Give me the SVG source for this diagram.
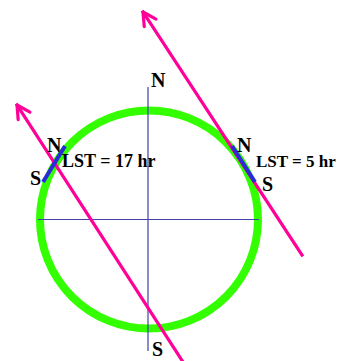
<svg xmlns="http://www.w3.org/2000/svg" width="337" height="361" viewBox="0 0 337 361">
<defs>
<marker id="arr" markerUnits="userSpaceOnUse" markerWidth="30" markerHeight="30" viewBox="-20 -15 30 30" refX="0" refY="0" orient="auto">
<path d="M-13,-7 L0,0 L-13,7" fill="none" stroke="#ff0099" stroke-width="3.2" stroke-linecap="round" stroke-linejoin="round"/>
</marker>
<style>
.lbl{font-family:"Liberation Serif","Times New Roman",serif;font-weight:bold;fill:#000}
.big{font-size:20px}
.med{font-size:18px}
.sm{font-size:17px}
.axis{stroke:#4040a8;stroke-width:1.2;fill:none}
.track{stroke:#ff0099;stroke-width:3.2;fill:none;stroke-linecap:square}
.seg{stroke:#2a2ad8;stroke-width:4;fill:none}
</style>
</defs>
<g id="earth">
<circle cx="149" cy="219.5" r="109" fill="none" stroke="#33ff00" stroke-width="8"/>
</g>
<g id="axes">
<line class="axis" x1="148" y1="87" x2="148" y2="351"/>
<line class="axis" x1="38" y1="219.5" x2="259" y2="219.5"/>
</g>
<g id="connectors">
<line class="track" x1="183" y1="362" x2="17" y2="105" marker-end="url(#arr)"/>
<line class="track" x1="302" y1="255" x2="143" y2="12" marker-end="url(#arr)"/>
</g>
<g id="seg-left">
<line class="seg" x1="43" y1="182" x2="65" y2="146"/>
</g>
<g id="seg-right">
<line class="seg" x1="232" y1="146" x2="255" y2="182"/>
</g>
<g id="labels">
<text class="lbl big" x="151" y="87">N</text>
<text class="lbl big" x="152" y="356">S</text>
<text class="lbl big" x="47" y="152">N</text>
<text class="lbl big" x="30" y="185">S</text>
<text class="lbl med" x="62" y="167">LST = 17 hr</text>
<text class="lbl big" x="237" y="152">N</text>
<text class="lbl big" x="262" y="191">S</text>
<text class="lbl sm" x="256" y="167">LST = 5 hr</text>
</g>
</svg>
